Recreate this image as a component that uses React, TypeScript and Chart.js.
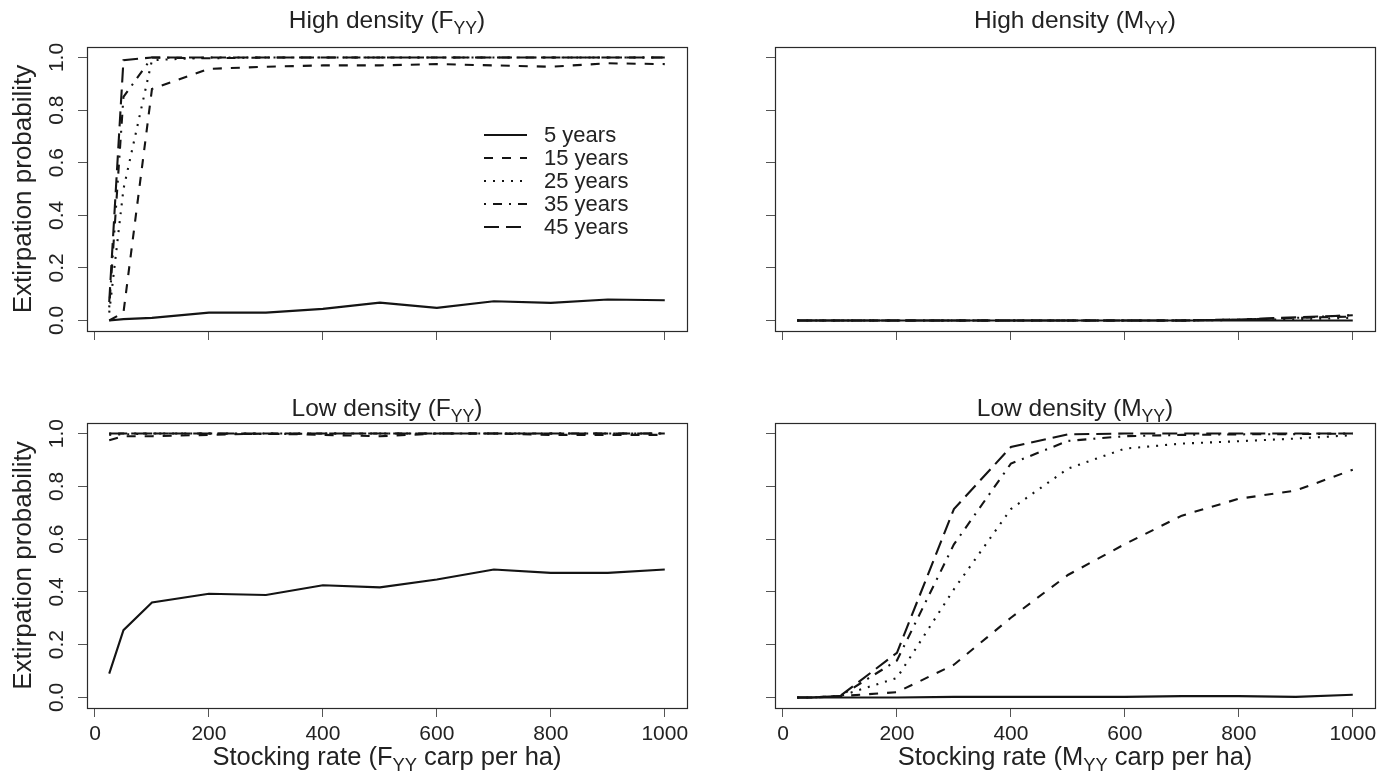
import React, { useEffect, useRef } from "react";
import { Chart, registerables } from "chart.js";

Chart.register(...registerables);

// ---------------- data ----------------
const stockingRates = [25, 50, 100, 200, 300, 400, 500, 600, 700, 800, 900, 1000];
const seriesLabels = ["5 years", "15 years", "25 years", "35 years", "45 years"];
const xTickValues = [0, 200, 400, 600, 800, 1000];
const xTickLabels = ["0", "200", "400", "600", "800", "1000"];
const yTickValues = [0, 0.2, 0.4, 0.6, 0.8, 1.0];
const yTickLabels = ["0.0", "0.2", "0.4", "0.6", "0.8", "1.0"];

// High density (F_YY)
const highF5 = [0, 0.005, 0.01, 0.03, 0.03, 0.044, 0.068, 0.048, 0.073, 0.067, 0.08, 0.077];
const highF15 = [0, 0.03, 0.88, 0.957, 0.965, 0.97, 0.97, 0.975, 0.97, 0.965, 0.978, 0.975];
const highF25 = [0.03, 0.5, 0.99, 1.0, 1.0, 1.0, 1.0, 1.0, 1.0, 1.0, 1.0, 1.0];
const highF35 = [0.05, 0.85, 1.0, 0.997, 1.0, 1.0, 1.0, 1.0, 1.0, 1.0, 1.0, 1.0];
const highF45 = [0.07, 0.99, 1.0, 1.0, 1.0, 1.0, 1.0, 1.0, 1.0, 1.0, 1.0, 1.0];

// High density (M_YY)
const highM5 = [0, 0, 0, 0, 0, 0, 0, 0, 0, 0, 0, 0];
const highM15 = [0, 0, 0, 0, 0, 0, 0, 0, 0, 0.003, 0.01, 0.015];
const highM25 = [0, 0, 0, 0, 0, 0, 0, 0, 0, 0.002, 0.005, 0.01];
const highM35 = [0, 0, 0, 0, 0, 0, 0, 0, 0, 0.003, 0.01, 0.02];
const highM45 = [0, 0, 0, 0, 0, 0, 0, 0, 0, 0.004, 0.012, 0.02];

// Low density (F_YY)
const lowF5 = [0.09, 0.255, 0.36, 0.393, 0.388, 0.425, 0.417, 0.447, 0.485, 0.472, 0.472, 0.485];
const lowF15 = [0.975, 0.99, 0.99, 0.995, 1.0, 0.995, 0.99, 1.0, 1.0, 0.995, 0.995, 0.995];
const lowF25 = [0.995, 0.997, 1.0, 1.0, 1.0, 1.0, 1.0, 1.0, 1.0, 1.0, 1.0, 1.0];
const lowF35 = [1.0, 1.0, 1.0, 1.0, 0.998, 1.0, 1.0, 1.0, 1.0, 1.0, 1.0, 1.0];
const lowF45 = [1.0, 1.0, 1.0, 1.0, 1.0, 1.0, 1.0, 1.0, 1.0, 1.0, 1.0, 1.0];

// Low density (M_YY)
const lowM5 = [0, 0, 0, 0, 0.002, 0.002, 0.002, 0.002, 0.005, 0.005, 0.002, 0.01];
const lowM15 = [0, 0, 0.005, 0.02, 0.124, 0.302, 0.464, 0.581, 0.689, 0.753, 0.784, 0.863];
const lowM25 = [0, 0, 0.005, 0.074, 0.41, 0.714, 0.867, 0.943, 0.962, 0.971, 0.981, 0.994];
const lowM35 = [0, 0, 0.005, 0.14, 0.58, 0.886, 0.972, 0.99, 0.995, 0.997, 0.998, 1.0];
const lowM45 = [0, 0, 0.005, 0.169, 0.714, 0.949, 0.997, 1.0, 1.0, 1.0, 1.0, 1.0];

// ---------------- styling ----------------
const FONT = '"Liberation Sans", Arial, Helvetica, sans-serif';
const LINE_COLOR = "#141414";
const TEXT_COLOR = "#222222";
const dashes: number[][] = [[], [9, 9], [2, 7], [2, 7, 9, 7], [15, 7]];

type Part = { t: string; sub?: boolean };

function drawRich(ctx: CanvasRenderingContext2D, parts: Part[], x: number, y: number, size: number, rotate = false) {
  const subSize = size * 0.72;
  let total = 0;
  const widths = parts.map((p) => {
    ctx.font = `${p.sub ? subSize : size}px ${FONT}`;
    const w = ctx.measureText(p.t).width;
    total += w;
    return w;
  });
  ctx.save();
  ctx.translate(x, y);
  if (rotate) ctx.rotate(-Math.PI / 2);
  ctx.textAlign = "left";
  ctx.textBaseline = "alphabetic";
  ctx.fillStyle = TEXT_COLOR;
  let cx = -total / 2;
  parts.forEach((p, i) => {
    ctx.font = `${p.sub ? subSize : size}px ${FONT}`;
    ctx.fillText(p.t, cx, p.sub ? size * 0.24 : 0);
    cx += widths[i];
  });
  ctx.restore();
}

type Panel = {
  left: number;
  top: number;
  w: number;
  h: number;
  area: { l: number; t: number; r: number; b: number };
  series: number[][];
  title: Part[];
  titleGap: number;
  showXLabels: boolean;
  showYLabels: boolean;
  xTitle?: Part[];
  legend?: boolean;
};

const panels: Panel[] = [
  {
    left: 0, top: 0, w: 695, h: 389,
    area: { l: 87, t: 47, r: 687, b: 331 },
    series: [highF5, highF15, highF25, highF35, highF45],
    title: [{ t: "High density (F" }, { t: "YY", sub: true }, { t: ")" }],
    titleGap: 19, showXLabels: false, showYLabels: true, legend: true,
  },
  {
    left: 695, top: 0, w: 695, h: 389,
    area: { l: 80, t: 47, r: 680, b: 331 },
    series: [highM5, highM15, highM25, highM35, highM45],
    title: [{ t: "High density (M" }, { t: "YY", sub: true }, { t: ")" }],
    titleGap: 19, showXLabels: false, showYLabels: false,
  },
  {
    left: 0, top: 389, w: 695, h: 389,
    area: { l: 87, t: 34, r: 687, b: 319 },
    series: [lowF5, lowF15, lowF25, lowF35, lowF45],
    title: [{ t: "Low density (F" }, { t: "YY", sub: true }, { t: ")" }],
    titleGap: 7, showXLabels: true, showYLabels: true,
    xTitle: [{ t: "Stocking rate (F" }, { t: "YY", sub: true }, { t: " carp per ha)" }],
  },
  {
    left: 695, top: 389, w: 695, h: 389,
    area: { l: 80, t: 34, r: 680, b: 319 },
    series: [lowM5, lowM15, lowM25, lowM35, lowM45],
    title: [{ t: "Low density (M" }, { t: "YY", sub: true }, { t: ")" }],
    titleGap: 7, showXLabels: true, showYLabels: false,
    xTitle: [{ t: "Stocking rate (M" }, { t: "YY", sub: true }, { t: " carp per ha)" }],
  },
];

function makeDecor(p: Panel) {
  return {
    id: "decor",
    afterDraw(chart: any) {
      const ctx: CanvasRenderingContext2D = chart.ctx;
      const ca = chart.chartArea;
      const yScale = chart.scales.y;
      ctx.save();
      // box
      ctx.strokeStyle = "#2a2a2a";
      ctx.lineWidth = 1.2;
      ctx.setLineDash([]);
      ctx.strokeRect(Math.round(ca.left) + 0.5, Math.round(ca.top) + 0.5, Math.round(ca.right - ca.left), Math.round(ca.bottom - ca.top));
      // title
      drawRich(ctx, p.title, (ca.left + ca.right) / 2, ca.top - p.titleGap, 24.5);
      // y tick labels (rotated, R style)
      if (p.showYLabels) {
        ctx.fillStyle = TEXT_COLOR;
        ctx.font = `21px ${FONT}`;
        yTickValues.forEach((v, i) => {
          const py = yScale.getPixelForValue(v);
          ctx.save();
          ctx.translate(ca.left - 24, py);
          ctx.rotate(-Math.PI / 2);
          ctx.textAlign = "center";
          ctx.textBaseline = "alphabetic";
          ctx.fillText(yTickLabels[i], 0, 0);
          ctx.restore();
        });
        drawRich(ctx, [{ t: "Extirpation probability" }], ca.left - 56, (ca.top + ca.bottom) / 2, 26, true);
      }
      if (p.xTitle) {
        drawRich(ctx, p.xTitle, (ca.left + ca.right) / 2, ca.bottom + 57, 25.5);
      }
      if (p.legend) {
        const lx0 = ca.left + 397;
        const lx1 = ca.left + 440;
        const tx = ca.left + 457;
        seriesLabels.forEach((lab, i) => {
          const ly = ca.top + 88 + i * 23;
          ctx.strokeStyle = LINE_COLOR;
          ctx.lineWidth = 2;
          ctx.lineCap = "butt";
          ctx.setLineDash(dashes[i]);
          ctx.beginPath();
          ctx.moveTo(lx0, ly);
          ctx.lineTo(lx1, ly);
          ctx.stroke();
          ctx.setLineDash([]);
          ctx.fillStyle = TEXT_COLOR;
          ctx.font = `22px ${FONT}`;
          ctx.textAlign = "left";
          ctx.textBaseline = "middle";
          ctx.fillText(lab, tx, ly + 1);
        });
      }
      ctx.restore();
    },
  };
}

function PanelChart({ p }: { p: Panel }) {
  const ref = useRef<HTMLCanvasElement | null>(null);
  useEffect(() => {
    if (!ref.current) return;
    const gridOpts = {
      drawOnChartArea: false,
      drawTicks: true,
      tickLength: 9,
      color: "#555555",
      lineWidth: 1,
    };
    const chart = new Chart(ref.current, {
      type: "line",
      data: {
        datasets: p.series.map((vals, i) => ({
          label: seriesLabels[i],
          data: stockingRates.map((x, j) => ({ x, y: vals[j] })),
          borderColor: LINE_COLOR,
          borderWidth: 2.1,
          borderDash: dashes[i],
          borderCapStyle: "butt" as const,
          pointRadius: 0,
          tension: 0,
          fill: false,
        })),
      },
      options: {
        animation: false,
        responsive: false,
        maintainAspectRatio: false,
        devicePixelRatio: 1,
        layout: {
          padding: { left: 0, top: p.area.t, right: p.w - p.area.r, bottom: 0 },
        },
        plugins: {
          legend: { display: false },
          title: { display: false },
          tooltip: { enabled: false },
        },
        scales: {
          x: {
            type: "linear",
            min: -14,
            max: 1039,
            afterBuildTicks: (s: any) => {
              s.ticks = xTickValues.map((v) => ({ value: v }));
            },
            afterFit: (s: any) => {
              s.height = p.h - p.area.b;
            },
            ticks: {
              display: p.showXLabels,
              autoSkip: false,
              maxRotation: 0,
              minRotation: 0,
              padding: 5,
              color: TEXT_COLOR,
              font: { family: FONT, size: 21 },
              callback: (_v: any, i: number) => xTickLabels[i],
            },
            grid: gridOpts,
            border: { display: false },
          },
          y: {
            type: "linear",
            min: -0.04,
            max: 1.04,
            afterBuildTicks: (s: any) => {
              s.ticks = yTickValues.map((v) => ({ value: v }));
            },
            afterFit: (s: any) => {
              s.width = p.area.l;
            },
            ticks: { display: false },
            grid: gridOpts,
            border: { display: false },
          },
        },
      },
      plugins: [makeDecor(p)],
    } as any);
    return () => chart.destroy();
  }, [p]);
  return (
    <canvas
      ref={ref}
      width={p.w}
      height={p.h}
      style={{ position: "absolute", left: p.left, top: p.top, width: p.w, height: p.h }}
    />
  );
}

export default function App() {
  return (
    <div style={{ position: "absolute", left: 0, top: 0, width: 1390, height: 778, background: "#ffffff" }}>
      {panels.map((p, i) => (
        <PanelChart key={i} p={p} />
      ))}
    </div>
  );
}
